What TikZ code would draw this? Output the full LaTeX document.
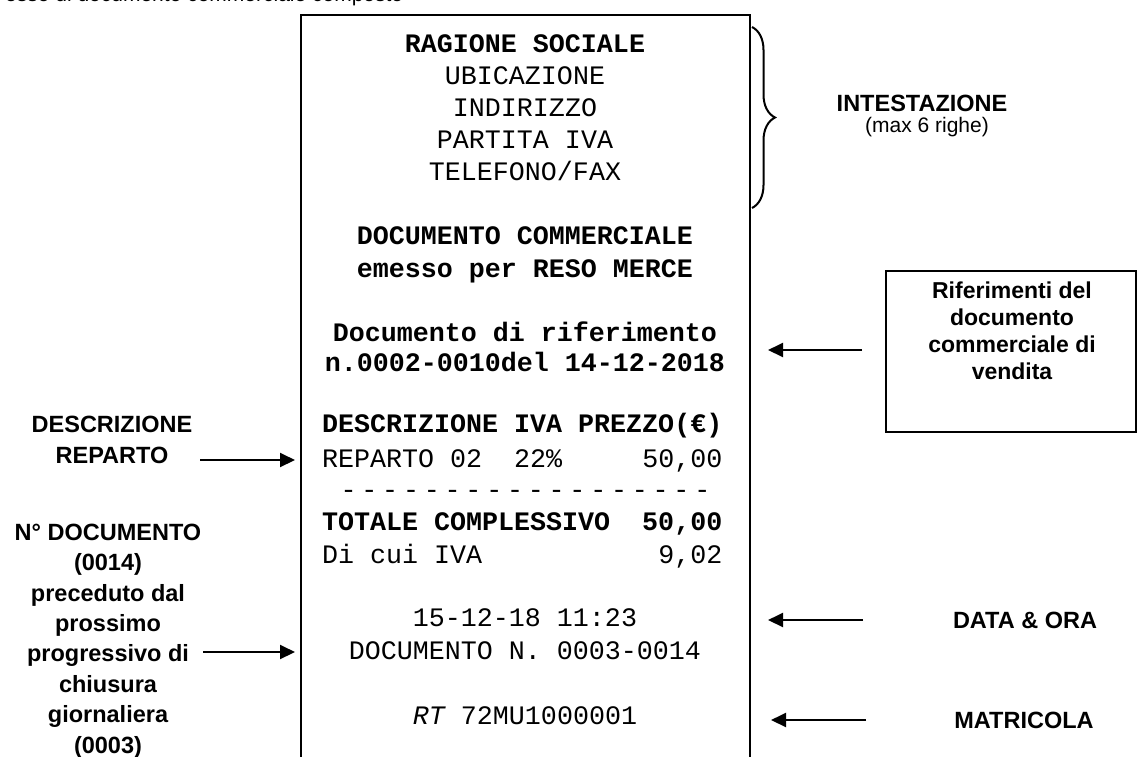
\documentclass[tikz,border=0pt]{standalone}
\usepackage{fontspec}
\setmainfont{Liberation Sans}
\newfontfamily\recfont[Ligatures=TeXOff]{Liberation Mono}
\usetikzlibrary{arrows.meta,decorations.pathreplacing}

% one spaced hyphen of the separator row
\newcommand\sepdash{-\kern4.8pt}

\tikzset{
  rn/.style={font=\recfont\fontsize{26.67}{32}\selectfont, inner sep=0pt, anchor=base},
  rb/.style={font=\recfont\bfseries\fontsize{26.67}{32}\selectfont, inner sep=0pt, anchor=base},
  lbl/.style={font=\bfseries\fontsize{23.5}{30.4}\selectfont, align=center, inner sep=0pt, anchor=base},
  lblbox/.style={font=\bfseries\fontsize{23}{27}\selectfont, align=center, inner sep=0pt, anchor=base},
  note/.style={font=\fontsize{21}{24}\selectfont, inner sep=0pt, anchor=base},
  ptr/.style={line width=2pt, -{Triangle[length=15pt,width=14pt]}},
  frame/.style={draw, line width=2pt, inner sep=0pt},
}

\begin{document}
\begin{tikzpicture}[x=1pt,y=-1pt]
  \useasboundingbox (0,0) rectangle (1139,756);
  \clip (0,0) rectangle (1139,756);

  % caption line running off the top edge
  \node[note, anchor=base west] (cap) at (5,1) {esso di documento commerciale composto};

  % the receipt
  \node[frame, minimum width=449pt, minimum height=800pt] (receipt) at (525.5,415) {};

  \node[rb] (rs)   at (525,52)  {RAGIONE SOCIALE};
  \node[rn] (ub)   at (525,84)  {UBICAZIONE};
  \node[rn] (ind)  at (525,116) {INDIRIZZO};
  \node[rn] (piva) at (525,148) {PARTITA IVA};
  \node[rn] (tel)  at (525,180) {TELEFONO/FAX};

  \node[rb] (dc) at (525,244) {DOCUMENTO COMMERCIALE};
  \node[rb] (em) at (525,277) {emesso per RESO MERCE};

  \node[rb] (dr) at (525,341.5) {Documento di riferimento};
  \node[rb] (nr) at (525,371.5) {n.0002-0010del 14-12-2018};

  \node[rb, anchor=base west] (hd)  at (322,432.5) {DESCRIZIONE IVA PREZZO(€)};
  \node[rn, anchor=base west] (rep) at (322,467) {REPARTO 02\ \ 22\%\ \ \ \ \ 50,00};
  \node[rn] (sep) at (525.5,498) {\sepdash\sepdash\sepdash\sepdash\sepdash\sepdash\sepdash\sepdash\sepdash\sepdash\sepdash\sepdash\sepdash\sepdash\sepdash\sepdash\sepdash-};
  \node[rb, anchor=base west] (tot) at (322,530.5) {TOTALE COMPLESSIVO\ \ 50,00};
  \node[rn, anchor=base west] (iva) at (322,563) {Di cui IVA\ \ \ \ \ \ \ \ \ \ \ 9,02};

  \node[rn] (dt)  at (525,626.5) {15-12-18 11:23};
  \node[rn] (dn)  at (525,659)   {DOCUMENTO N. 0003-0014};
  \node[rn] (mat) at (525,724.5) {{\itshape RT} 72MU1000001};

  % header brace
  \draw[line width=2pt, decorate, decoration={brace, amplitude=23pt}] (752,27) -- (752,208);
  \node[lbl] (intest) at (922,111) {INTESTAZIONE};
  \node[note] (maxr) at (927,132) {(max 6 righe)};

  % reference box
  \node[frame, minimum width=250pt, minimum height=161pt] (refbox) at (1011,351.5) {};
  \node[lblbox] (reft) at (1012,379) {Riferimenti del\\documento\\commerciale di\\vendita};

  % side labels (multi-line nodes sit on the baseline of their last line)
  \node[lbl] (ldesc) at (112,463) {DESCRIZIONE\\REPARTO};
  \node[lbl] (ldoc)  at (108,753) {N° DOCUMENTO\\(0014)\\preceduto dal\\prossimo\\progressivo di\\chiusura\\giornaliera\\(0003)};
  \node[lbl] (ldata) at (1025,628) {DATA \& ORA};
  \node[lbl] (lmat)  at (1024,728) {MATRICOLA};

  % pointer ends
  \coordinate (descS) at (200,460);  \coordinate (descE) at (295,460);
  \coordinate (docS)  at (203,652);  \coordinate (docE)  at (295,652);
  \coordinate (refS)  at (862,350);  \coordinate (refE)  at (768,350);
  \coordinate (dataS) at (863,620);  \coordinate (dataE) at (768,620);
  \coordinate (matS)  at (866,720);  \coordinate (matE)  at (771,720);

  \draw[ptr] (descS) -- (descE);
  \draw[ptr] (docS) -- (docE);
  \draw[ptr] (refS) -- (refE);
  \draw[ptr] (dataS) -- (dataE);
  \draw[ptr] (matS) -- (matE);
\end{tikzpicture}
\end{document}
